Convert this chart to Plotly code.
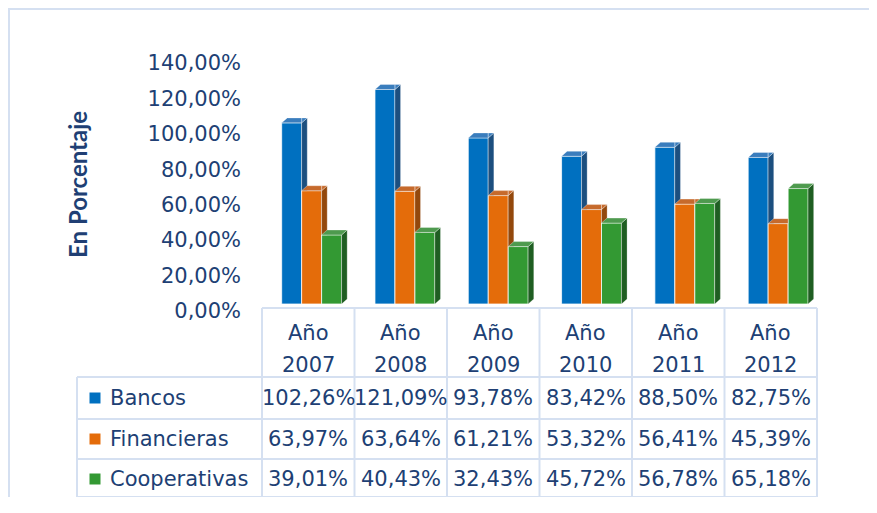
import plotly.graph_objects as go

# ---------------- data ----------------
categories = ["Año 2007", "Año 2008", "Año 2009", "Año 2010", "Año 2011", "Año 2012"]
series_names = ["Bancos", "Financieras", "Cooperativas"]
bancos = [102.26, 121.09, 93.78, 83.42, 88.50, 82.75]
financieras = [63.97, 63.64, 61.21, 53.32, 56.41, 45.39]
cooperativas = [39.01, 40.43, 32.43, 45.72, 56.78, 65.18]
y_ticks = [0, 20, 40, 60, 80, 100, 120, 140]
y_tick_labels = [f"{t:.2f}".replace(".", ",") + "%" for t in y_ticks]
y_title = "En Porcentaje"

series_values = [bancos, financieras, cooperativas]

# ---------------- style / layout constants ----------------
OFF = 8                  # page body margin (screen px -> figure px)
W, H = 877 - 2 * OFF, 489
L, R = 262 - OFF, 817 - OFF      # plot area (figure px)
T, B = 56 - OFF, 304 - OFF
TEXT = "#203f74"
GRID = "#d5e0f1"
FONT = "DejaVu Sans"
TITLE_FONT = "Liberation Sans Narrow, Lato, DejaVu Sans"

front_col = ["#0070C0", "#E46C0A", "#339933"]
side_col = ["#1C4F7F", "#93480C", "#1F5E22"]
cap_col = ["#3A7DBD", "#C66A2C", "#4E9A4E"]

bar_w = 0.214
offsets = [-0.28, -0.066, 0.148]
dx = 0.06      # depth (x units)
dy = 2.8       # depth (y units, %)

unit_px = 93.3
c0_px = 307.8 - OFF
x_lo = -(c0_px - L) / unit_px
x_hi = x_lo + (R - L) / unit_px


def py(p):
    """screen pixel y -> paper y"""
    return (B - (p - OFF)) / (B - T)


def px(p):
    """screen pixel x -> paper x"""
    return ((p - OFF) - L) / (R - L)


# ---------------- polygon clipping helpers ----------------
def clip(poly, inside, cut):
    out = []
    n = len(poly)
    for k in range(n):
        P, Q = poly[k], poly[(k + 1) % n]
        iP, iQ = inside(P), inside(Q)
        if iP:
            out.append(P)
        if iP != iQ:
            out.append(cut(P, Q))
    return out


def cut_x(xc):
    def f(P, Q):
        t = (xc - P[0]) / (Q[0] - P[0])
        return (xc, P[1] + t * (Q[1] - P[1]))
    return f


def cut_y(yc):
    def f(P, Q):
        t = (yc - P[1]) / (Q[1] - P[1])
        return (P[0] + t * (Q[0] - P[0]), yc)
    return f


def area(poly):
    s = 0
    for k in range(len(poly)):
        x1_, y1_ = poly[k]
        x2_, y2_ = poly[(k + 1) % len(poly)]
        s += x1_ * y2_ - x2_ * y1_
    return abs(s) / 2


def visible_pieces(poly, xb, ntop):
    """poly minus rectangle {x > xb, y < ntop}"""
    if ntop is None:
        return [poly]
    eps = 1e-9
    a = clip(poly, lambda P: P[0] <= xb + eps, cut_x(xb))
    b = clip(poly, lambda P: P[0] >= xb - eps, cut_x(xb))
    b = clip(b, lambda P: P[1] >= ntop, cut_y(ntop)) if b else []
    res = []
    for pc in (a, b):
        if len(pc) >= 3 and area(pc) > 1e-6:
            res.append(pc)
    return res


def add_poly(xs, ys, poly):
    for (a_, b_) in poly:
        xs.append(a_)
        ys.append(b_)
    xs.append(poly[0][0])
    ys.append(poly[0][1])
    xs.append(None)
    ys.append(None)


fig = go.Figure()

# front faces
for j, (name, vals) in enumerate(zip(series_names, series_values)):
    fig.add_trace(go.Bar(
        x=list(range(len(categories))), y=vals, name=name,
        width=bar_w, offset=offsets[j],
        marker=dict(color=front_col[j], line=dict(color="rgba(255,255,255,0.75)", width=1)),
        showlegend=False, hoverinfo="skip",
    ))

# side and top faces (3D effect)
for j, vals in enumerate(series_values):
    sx, sy, tx, ty = [], [], [], []
    for i, v in enumerate(vals):
        x0 = i + offsets[j]
        x1 = x0 + bar_w
        side = [(x1, 0), (x1, v), (x1 + dx, v + dy), (x1 + dx, dy)]
        cap = [(x0, v), (x1, v), (x1 + dx, v + dy), (x0 + dx, v + dy)]
        ntop = series_values[j + 1][i] if j + 1 < len(series_values) else None
        for pc in visible_pieces(side, x1, ntop):
            add_poly(sx, sy, pc)
        for pc in visible_pieces(cap, x1, ntop):
            add_poly(tx, ty, pc)
    fig.add_trace(go.Scatter(x=sx, y=sy, mode="lines", fill="toself", fillcolor=side_col[j],
                             line=dict(color="rgba(255,255,255,0.45)", width=0.6),
                             showlegend=False, hoverinfo="skip"))
    fig.add_trace(go.Scatter(x=tx, y=ty, mode="lines", fill="toself", fillcolor=cap_col[j],
                             line=dict(color="rgba(255,255,255,0.55)", width=0.6),
                             showlegend=False, hoverinfo="skip"))

shapes = []
# outer frame: only top and left edges fall inside the window
frame = dict(color=GRID, width=2)
shapes.append(dict(type="line", xref="paper", yref="paper", x0=px(8), x1=px(1000), y0=py(9), y1=py(9),
                   line=frame, layer="below"))
shapes.append(dict(type="line", xref="paper", yref="paper", x0=px(9), x1=px(9), y0=py(8), y1=py(900),
                   line=frame, layer="below"))
# table lines
ncol = len(categories)
colw = (817 - 262) / ncol
line = dict(color=GRID, width=2)
shapes.append(dict(type="line", xref="paper", yref="paper", x0=px(262), x1=px(817), y0=py(308), y1=py(308), line=line))
for k in range(ncol + 1):
    xx = px(262 + k * colw)
    shapes.append(dict(type="line", xref="paper", yref="paper", x0=xx, x1=xx, y0=py(308), y1=py(497), line=line))
row_lines = [377, 419, 459, 497]
for ry in row_lines:
    shapes.append(dict(type="line", xref="paper", yref="paper", x0=px(77), x1=px(817), y0=py(ry), y1=py(ry), line=line))
shapes.append(dict(type="line", xref="paper", yref="paper", x0=px(77), x1=px(77), y0=py(377), y1=py(497), line=line))

row_centers = [398, 439, 479]
annotations = []
for r, (name, vals) in enumerate(zip(series_names, series_values)):
    yc = row_centers[r]
    shapes.append(dict(type="rect", xref="paper", yref="paper", x0=px(89.5), x1=px(100.5),
                       y0=py(yc - 5.5), y1=py(yc + 5.5), fillcolor=front_col[r], line=dict(width=0)))
    annotations.append(dict(text=name, xref="paper", yref="paper", x=px(108), y=py(yc),
                            xanchor="left", yanchor="middle", showarrow=False,
                            font=dict(family=FONT, size=21, color=TEXT)))
    for i, v in enumerate(vals):
        annotations.append(dict(text=f"{v:.2f}".replace(".", ",") + "%", xref="x2", yref="paper",
                                x=i, y=py(yc), xanchor="center", yanchor="middle", showarrow=False,
                                font=dict(family=FONT, size=21, color=TEXT)))

for i, c in enumerate(categories):
    w1, w2 = c.split(" ")
    annotations.append(dict(text=w1, xref="x2", yref="paper", x=i, y=py(333), xanchor="center",
                            yanchor="middle", showarrow=False, font=dict(family=FONT, size=21, color=TEXT)))
    annotations.append(dict(text=w2, xref="x2", yref="paper", x=i, y=py(365), xanchor="center",
                            yanchor="middle", showarrow=False, font=dict(family=FONT, size=21, color=TEXT)))

annotations.append(dict(text=f"<b>{y_title}</b>", xref="paper", yref="paper", x=px(77), y=py(185),
                        textangle=-90, xanchor="center", yanchor="middle", showarrow=False,
                        font=dict(family=TITLE_FONT, size=24, color=TEXT)))

fig.update_layout(
    width=W, height=H,
    margin=dict(l=L, r=W - R, t=T, b=H - B, pad=0),
    paper_bgcolor="white", plot_bgcolor="rgba(0,0,0,0)",
    barmode="overlay",
    xaxis=dict(range=[x_lo, x_hi], visible=False, fixedrange=True),
    xaxis2=dict(range=[-0.5, ncol - 0.5], overlaying="x", visible=False, fixedrange=True),
    yaxis=dict(range=[0, 140], tickvals=y_ticks, ticktext=y_tick_labels,
               showgrid=False, zeroline=False, showline=False, ticks="",
               ticklabelstandoff=20, ticklabelshift=7,
               tickfont=dict(family=FONT, size=21, color=TEXT), fixedrange=True),
    shapes=shapes, annotations=annotations, showlegend=False,
)

fig.write_html("out.html")
